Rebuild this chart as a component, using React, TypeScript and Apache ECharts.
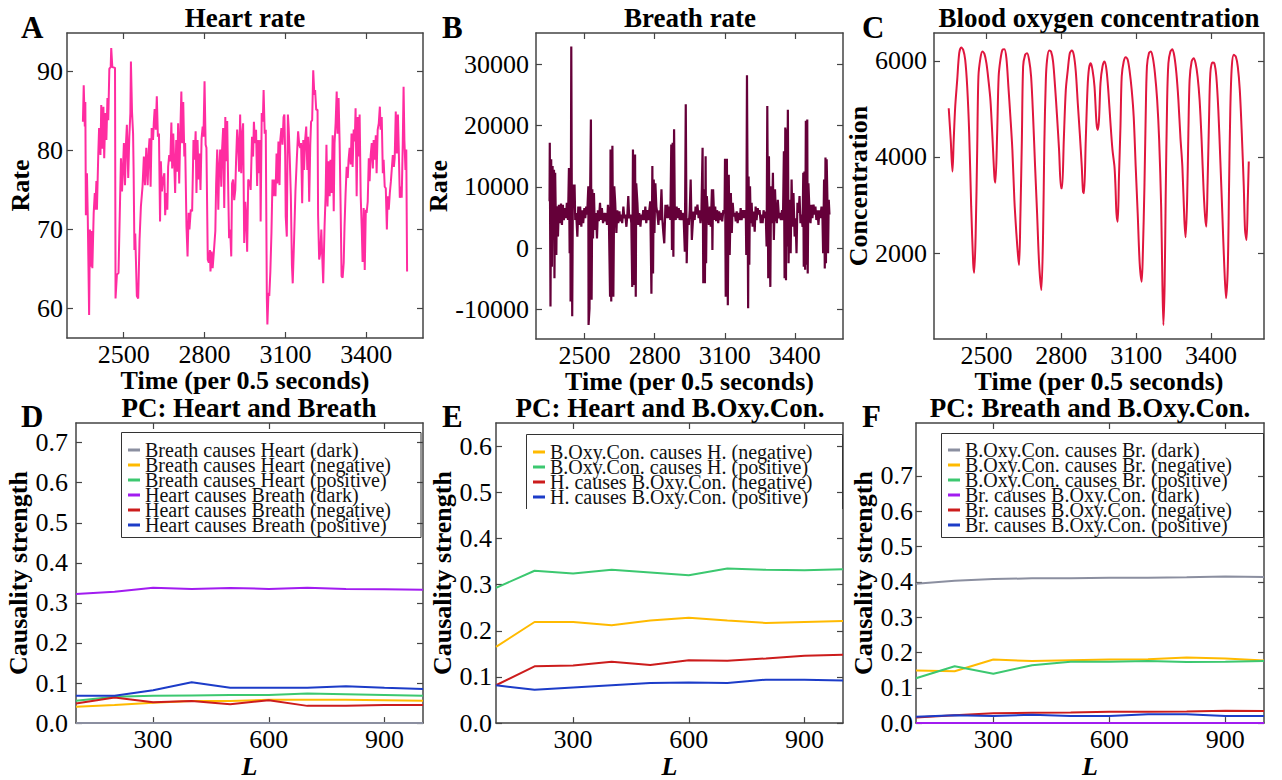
import React, { useEffect, useRef } from "react";
import * as echarts from "echarts";

const FONT = "Liberation Serif";

// ---------- Top row: time series (time in 0.5 s steps, value) ----------
const heartRate: [number, number][] = [
  [2349, 83.6], [2352, 88.2], [2356, 83.0], [2358, 86.1], [2360, 71.8], [2364, 77.1], [2367, 71.6], [2372, 59.2],
  [2375, 70.0], [2379, 65.3], [2381, 69.8], [2384, 65.1], [2389, 72.1], [2393, 74.6], [2395, 72.5], [2399, 76.1],
  [2401, 72.5], [2406, 79.6], [2409, 82.8], [2414, 79.4], [2417, 85.7], [2421, 80.2], [2425, 85.5], [2428, 79.0],
  [2432, 84.7], [2436, 81.3], [2440, 86.6], [2443, 83.8], [2447, 90.3], [2452, 90.5], [2454, 92.9], [2458, 90.5],
  [2468, 90.4], [2470, 61.3], [2475, 64.3], [2481, 64.5], [2486, 72.5], [2490, 79.0], [2494, 74.8], [2498, 78.2],
  [2501, 80.9], [2505, 75.6], [2509, 81.1], [2512, 83.2], [2517, 76.5], [2521, 81.7], [2525, 84.7], [2527, 91.2],
  [2531, 84.9], [2535, 82.1], [2537, 77.5], [2540, 67.4], [2543, 69.5], [2549, 61.6], [2554, 61.3], [2559, 68.7],
  [2564, 72.9], [2570, 75.4], [2575, 79.2], [2579, 75.6], [2584, 80.3], [2589, 75.6], [2593, 80.0], [2596, 81.5],
  [2600, 75.4], [2604, 82.8], [2609, 81.3], [2612, 83.6], [2615, 85.2], [2619, 82.6], [2623, 86.8], [2627, 81.7],
  [2631, 82.1], [2635, 71.0], [2638, 78.6], [2642, 74.8], [2646, 76.3], [2651, 77.1], [2654, 71.8], [2658, 74.6],
  [2662, 72.5], [2665, 77.9], [2669, 79.4], [2673, 78.6], [2677, 83.5], [2680, 77.7], [2684, 82.1], [2688, 77.9],
  [2691, 74.6], [2695, 81.3], [2699, 77.3], [2702, 83.4], [2706, 75.8], [2710, 82.1], [2714, 87.4], [2717, 80.9],
  [2721, 86.1], [2725, 79.2], [2728, 80.9], [2733, 70.4], [2737, 66.6], [2741, 72.1], [2744, 70.0], [2749, 72.5],
  [2754, 72.3], [2759, 81.3], [2763, 78.8], [2767, 82.4], [2770, 74.6], [2774, 81.3], [2778, 76.3], [2781, 79.6],
  [2785, 75.0], [2789, 81.5], [2793, 83.0], [2796, 81.7], [2800, 88.7], [2804, 80.7], [2807, 80.3], [2812, 66.2],
  [2816, 65.8], [2820, 67.4], [2822, 64.7], [2826, 67.2], [2830, 65.1], [2835, 67.4], [2840, 69.8], [2843, 75.8],
  [2847, 80.1], [2851, 72.5], [2854, 77.5], [2858, 80.1], [2862, 75.4], [2865, 80.1], [2869, 82.8], [2873, 72.7],
  [2877, 84.2], [2880, 78.6], [2884, 83.7], [2888, 74.6], [2891, 68.9], [2895, 70.0], [2899, 66.6], [2902, 75.8],
  [2906, 76.3], [2910, 73.7], [2914, 75.0], [2917, 78.8], [2921, 82.6], [2925, 80.3], [2928, 77.3], [2932, 84.5],
  [2936, 77.1], [2940, 82.1], [2943, 83.4], [2947, 68.3], [2951, 73.5], [2954, 71.8], [2958, 67.2], [2962, 76.3],
  [2965, 76.1], [2969, 75.6], [2971, 75.0], [2976, 81.7], [2980, 79.2], [2983, 83.6], [2987, 80.9], [2991, 82.6],
  [2995, 75.5], [2998, 81.3], [3002, 77.1], [3006, 81.3], [3008, 71.0], [3012, 84.7], [3016, 83.6], [3019, 87.6],
  [3023, 82.1], [3027, 82.6], [3031, 61.3], [3033, 58.0], [3037, 62.0], [3040, 61.6], [3044, 64.7], [3048, 69.5],
  [3052, 76.3], [3055, 74.2], [3059, 76.3], [3063, 74.2], [3067, 79.6], [3070, 75.8], [3074, 81.1], [3078, 75.6],
  [3081, 81.3], [3085, 82.8], [3089, 80.7], [3093, 84.2], [3096, 84.5], [3099, 79.4], [3101, 71.6], [3105, 69.1],
  [3109, 84.5], [3112, 82.8], [3116, 79.0], [3120, 74.2], [3124, 65.5], [3127, 63.2], [3132, 68.7], [3137, 74.8],
  [3142, 78.8], [3147, 82.4], [3151, 80.7], [3155, 80.3], [3158, 80.9], [3162, 73.3], [3166, 81.3], [3169, 77.5],
  [3173, 81.3], [3177, 83.0], [3181, 77.5], [3184, 81.7], [3188, 73.5], [3192, 80.7], [3195, 83.6], [3199, 83.8],
  [3203, 90.1], [3207, 87.0], [3210, 87.6], [3214, 85.1], [3219, 85.1], [3221, 71.8], [3225, 66.2], [3229, 67.0],
  [3233, 70.0], [3236, 67.0], [3240, 63.2], [3245, 70.4], [3249, 74.4], [3252, 80.7], [3256, 72.9], [3260, 78.6],
  [3264, 74.2], [3267, 78.8], [3271, 74.6], [3275, 81.9], [3279, 72.3], [3282, 80.9], [3286, 83.4], [3290, 87.4],
  [3293, 82.1], [3297, 86.6], [3301, 80.7], [3305, 71.8], [3308, 64.1], [3312, 63.9], [3316, 65.8], [3319, 70.4],
  [3323, 74.6], [3327, 77.9], [3331, 76.5], [3334, 78.8], [3338, 80.3], [3342, 78.2], [3345, 82.1], [3349, 77.9],
  [3353, 82.6], [3357, 81.1], [3360, 85.3], [3364, 74.2], [3368, 84.2], [3371, 79.2], [3375, 84.5], [3379, 74.2],
  [3383, 70.0], [3386, 65.9], [3390, 72.7], [3394, 64.9], [3398, 72.5], [3401, 72.1], [3405, 73.5], [3409, 79.0],
  [3412, 76.1], [3416, 79.4], [3420, 80.9], [3424, 77.7], [3427, 81.3], [3431, 78.8], [3435, 81.9], [3438, 77.1],
  [3442, 82.6], [3446, 83.4], [3450, 85.5], [3453, 82.6], [3457, 84.2], [3461, 77.1], [3464, 78.8], [3468, 75.4],
  [3472, 75.2], [3476, 70.0], [3479, 74.2], [3483, 72.5], [3487, 74.6], [3491, 76.1], [3494, 77.5], [3498, 79.4],
  [3502, 77.9], [3505, 79.0], [3509, 84.9], [3513, 79.6], [3517, 84.5], [3520, 80.3], [3524, 74.0], [3528, 75.4],
  [3531, 74.0], [3535, 80.9], [3538, 88.0], [3541, 81.3], [3545, 77.5], [3548, 80.1], [3551, 64.7],
];

const breathRate: [number, number][] = [
  [2350, 7650], [2351, 17200], [2354, -9500], [2357, 14500], [2360, -3000], [2363, 13400], [2366, 1360], [2369, 12800],
  [2371, -4900], [2374, 12300], [2379, -1100], [2381, 6840], [2386, 1900], [2390, 7100], [2394, 4100], [2399, 7300],
  [2403, 3800], [2407, 7100], [2411, 4600], [2416, 6550], [2420, 4900], [2424, 7400], [2429, 4600], [2433, 13100],
  [2436, -800], [2439, 13100], [2440, -8700], [2443, 32900], [2447, -11100], [2450, 10400], [2453, 6800], [2457, 10400],
  [2460, 4600], [2464, 5750], [2469, 1900], [2473, 6800], [2477, 3800], [2481, 6800], [2486, 3500], [2490, 6200],
  [2494, 4100], [2499, 6550], [2503, 4900], [2507, 6800], [2511, 5500], [2516, 10100], [2517, -12500], [2521, -9800],
  [2524, 10400], [2527, 21000], [2530, -8400], [2533, 9600], [2536, 1600], [2540, 9000], [2544, 3000], [2549, 5750],
  [2553, 1600], [2557, 6200], [2561, 4400], [2566, 7400], [2570, 4600], [2574, 6550], [2579, 4100], [2583, 5750],
  [2587, 4400], [2591, 5750], [2596, 3800], [2600, 7100], [2604, 4600], [2609, -7900], [2611, 16100], [2614, -8700],
  [2619, 16700], [2623, -7900], [2627, 10100], [2631, 7400], [2636, 2500], [2640, 6200], [2644, 4100], [2649, 6000],
  [2653, 4400], [2657, 5500], [2661, 4100], [2666, 6800], [2670, 4900], [2674, 5500], [2679, 3500], [2683, 5500],
  [2687, 8500], [2691, 4900], [2696, 5500], [2700, 4100], [2704, -6300], [2707, 16100], [2711, -6000], [2716, 15300],
  [2719, -7900], [2721, 10600], [2726, 7400], [2730, 3800], [2734, 5750], [2739, 3500], [2743, 5500], [2747, 4600],
  [2751, 6200], [2756, 4600], [2760, 6800], [2764, 4100], [2769, 6200], [2773, 4600], [2777, 6200], [2781, 7650],
  [2786, -7400], [2790, 13400], [2793, -4100], [2796, 11200], [2799, 2500], [2803, 10600], [2807, 6800], [2811, 5750],
  [2816, 3800], [2820, 6200], [2824, 4600], [2829, 9600], [2833, 4600], [2837, 2500], [2841, 800], [2846, 7100],
  [2850, 4900], [2854, 7100], [2859, 4900], [2863, 6800], [2867, 4600], [2871, 16900], [2874, -270], [2877, 17200],
  [2880, -1400], [2883, 19400], [2886, 6200], [2890, 4600], [2894, 6800], [2899, 4900], [2903, 6550], [2907, 4600],
  [2911, 6200], [2916, 4600], [2920, 5750], [2924, 4900], [2929, -550], [2933, 23500], [2937, -2450], [2941, 4900],
  [2946, 3800], [2950, 6200], [2954, 11200], [2959, 1360], [2966, 6000], [2971, 4600], [2975, 6800], [2979, 5500],
  [2983, 7100], [2988, 4900], [2992, 6200], [2996, 4100], [3000, 5750], [3005, 16400], [3008, -5700], [3010, 9600],
  [3015, -5700], [3018, 15000], [3020, -2450], [3023, 8500], [3027, 6200], [3032, 3800], [3036, 6800], [3040, 3500],
  [3045, 9600], [3047, -270], [3050, 9600], [3055, 4600], [3059, 6800], [3063, 4400], [3067, 6200], [3072, 4100],
  [3076, 6000], [3080, 4600], [3084, 5750], [3089, 4400], [3094, 6200], [3099, 5750], [3101, 14600], [3104, -7900],
  [3109, 14600], [3113, -9300], [3117, 12000], [3121, -1100], [3126, 9000], [3130, 2500], [3134, 7400], [3138, 5200],
  [3143, 5750], [3147, 4400], [3151, 6000], [3155, 4100], [3160, 5750], [3164, 4600], [3168, 6550], [3172, 4600],
  [3177, 6200], [3181, 4900], [3185, 6200], [3190, 5750], [3192, -1100], [3195, 28200], [3200, -9800], [3202, 11700],
  [3205, -2700], [3208, 10100], [3211, 4100], [3215, 7400], [3219, 3500], [3224, 6000], [3228, 2700], [3232, 6800],
  [3236, 4600], [3241, 6550], [3245, 5500], [3249, 6200], [3254, 4100], [3258, 5500], [3262, 4100], [3266, 6200],
  [3271, 4900], [3275, 6000], [3279, 270], [3282, 23200], [3286, -4900], [3289, 15000], [3292, -270], [3295, -6300],
  [3298, 10100], [3302, 4100], [3306, 12300], [3310, 1360], [3315, 9600], [3319, 5200], [3323, 4100], [3327, 7900],
  [3332, 4900], [3336, 5750], [3340, 4600], [3345, 6200], [3349, 4600], [3353, 15800], [3356, -4900], [3359, 19700],
  [3362, -5200], [3364, 19400], [3367, 270], [3370, 22600], [3373, -2450], [3377, 7900], [3382, -800], [3386, 11200],
  [3390, 3500], [3394, 9000], [3399, 1900], [3403, 4900], [3407, -800], [3411, 7400], [3416, 5750], [3420, 8500],
  [3424, 4100], [3428, 5500], [3433, 3500], [3436, 12300], [3438, -3000], [3441, 12500], [3444, -3500], [3447, 20800],
  [3450, -2700], [3453, 21000], [3455, -4100], [3458, 10600], [3463, 5500], [3467, 4100], [3471, 7100], [3475, 4900],
  [3480, 7100], [3484, 5500], [3488, 6800], [3492, 4600], [3497, 6200], [3501, 3800], [3505, 6200], [3509, 4900],
  [3514, 6800], [3518, 5200], [3521, -800], [3525, 11200], [3528, -3300], [3531, 14800], [3533, -2450], [3536, 14500],
  [3539, 8500], [3542, -800], [3545, 7900], [3548, 5500],
];

const bloodOxygen: [number, number][] = [
  [2349, 5014], [2357, 4354], [2364, 3695], [2369, 4354], [2375, 5049], [2383, 5604], [2391, 6160], [2399, 6278],
  [2407, 6229], [2415, 6021], [2423, 5465], [2431, 4493], [2439, 2965], [2447, 1785], [2451, 1590], [2457, 2410],
  [2463, 4146], [2468, 5674], [2476, 6056], [2484, 6194], [2492, 6146], [2500, 5951], [2508, 5604], [2516, 5188],
  [2524, 4424], [2532, 3590], [2536, 3465], [2543, 4493], [2549, 5674], [2556, 6021], [2564, 6229], [2572, 6243],
  [2580, 6056], [2588, 5465], [2596, 4840], [2604, 4146], [2612, 3104], [2620, 2410], [2627, 1924], [2631, 1750],
  [2636, 2757], [2642, 4354], [2647, 5882], [2655, 6125], [2663, 6160], [2671, 6021], [2679, 5674], [2687, 4840],
  [2695, 3799], [2703, 2826], [2711, 1785], [2720, 1229], [2727, 2410], [2732, 4285], [2738, 5604], [2743, 6021],
  [2751, 6215], [2759, 6194], [2767, 5986], [2775, 5465], [2783, 4840], [2791, 4146], [2799, 3347], [2803, 3347],
  [2810, 4354], [2818, 5396], [2826, 5813], [2834, 6160], [2842, 6215], [2850, 6125], [2858, 5778], [2866, 5118],
  [2874, 4493], [2882, 3799], [2887, 3278], [2891, 3243], [2898, 4354], [2905, 5431], [2911, 5847], [2918, 5951],
  [2925, 5813], [2933, 5465], [2941, 4701], [2946, 4563], [2951, 4771], [2957, 5535], [2965, 5882], [2973, 5986],
  [2981, 5813], [2989, 5326], [2997, 4701], [3005, 4146], [3013, 3799], [3017, 3382], [3021, 2826], [3026, 2653],
  [3031, 3590], [3037, 4632], [3042, 5674], [3050, 5986], [3058, 6076], [3066, 6021], [3074, 5778], [3082, 5396],
  [3090, 4840], [3098, 3799], [3106, 2826], [3114, 1785], [3122, 1403], [3127, 2063], [3133, 3382], [3138, 4840],
  [3143, 5882], [3151, 6160], [3159, 6194], [3167, 6056], [3175, 5743], [3184, 5188], [3192, 4354], [3200, 2965],
  [3205, 1368], [3209, 500], [3214, 1368], [3218, 3104], [3224, 5188], [3229, 5951], [3237, 6194], [3245, 6243],
  [3253, 6090], [3261, 5743], [3269, 5188], [3277, 4424], [3285, 3799], [3293, 2688], [3298, 2326], [3304, 3104],
  [3309, 4493], [3314, 5604], [3322, 5986], [3330, 6056], [3338, 5951], [3346, 5674], [3354, 5188], [3362, 4354],
  [3370, 3313], [3376, 2757], [3381, 2549], [3386, 3451], [3392, 4840], [3397, 5743], [3405, 5965], [3413, 5951],
  [3421, 5674], [3429, 4979], [3437, 3938], [3445, 2826], [3453, 1715], [3460, 1056], [3467, 1715], [3472, 3382],
  [3477, 4979], [3483, 5882], [3491, 6125], [3499, 6090], [3507, 5882], [3515, 5396], [3523, 4493], [3531, 3382],
  [3536, 2479], [3542, 2271], [3547, 3104], [3551, 3903],
];

// ---------- Bottom row: causality strength vs L ----------
const lValues = [100, 200, 300, 400, 500, 600, 700, 800, 900, 1000];

const dNames = [
  "Breath causes Heart (dark)",
  "Breath causes Heart (negative)",
  "Breath causes Heart (positive)",
  "Heart causes Breath (dark)",
  "Heart causes Breath (negative)",
  "Heart causes Breath (positive)",
];
const dBrHDark = [0, 0, 0, 0, 0, 0, 0, 0, 0, 0];
const dBrHNeg = [0.041, 0.045, 0.051, 0.055, 0.055, 0.058, 0.058, 0.058, 0.057, 0.056];
const dBrHPos = [0.056, 0.066, 0.068, 0.069, 0.07, 0.07, 0.074, 0.072, 0.07, 0.068];
const dHBrDark = [0.322, 0.328, 0.338, 0.335, 0.337, 0.335, 0.338, 0.335, 0.334, 0.333];
const dHBrNeg = [0.049, 0.064, 0.052, 0.055, 0.047, 0.057, 0.043, 0.043, 0.045, 0.045];
const dHBrPos = [0.068, 0.068, 0.082, 0.102, 0.088, 0.088, 0.088, 0.092, 0.088, 0.085];

const eNames = [
  "B.Oxy.Con. causes H. (negative)",
  "B.Oxy.Con. causes H. (positive)",
  "H. causes B.Oxy.Con. (negative)",
  "H. causes B.Oxy.Con. (positive)",
];
const eOxHNeg = [0.165, 0.219, 0.219, 0.212, 0.222, 0.228, 0.222, 0.217, 0.219, 0.221];
const eOxHPos = [0.293, 0.33, 0.324, 0.332, 0.326, 0.32, 0.335, 0.332, 0.331, 0.333];
const eHOxNeg = [0.082, 0.123, 0.125, 0.133, 0.126, 0.136, 0.135, 0.14, 0.146, 0.148];
const eHOxPos = [0.082, 0.072, 0.077, 0.082, 0.087, 0.088, 0.087, 0.094, 0.094, 0.092];

const fNames = [
  "B.Oxy.Con. causes Br. (dark)",
  "B.Oxy.Con. causes Br. (negative)",
  "B.Oxy.Con. causes Br. (positive)",
  "Br. causes B.Oxy.Con. (dark)",
  "Br. causes B.Oxy.Con. (negative)",
  "Br. causes B.Oxy.Con. (positive)",
];
const fOxBrDark = [0.395, 0.403, 0.408, 0.41, 0.41, 0.412, 0.412, 0.413, 0.415, 0.414];
const fOxBrNeg = [0.149, 0.147, 0.18, 0.176, 0.178, 0.18, 0.181, 0.186, 0.183, 0.177];
const fOxBrPos = [0.127, 0.161, 0.14, 0.164, 0.174, 0.174, 0.176, 0.173, 0.174, 0.176];
const fBrOxDark = [0, 0, 0, 0, 0, 0, 0, 0, 0, 0];
const fBrOxNeg = [0.016, 0.022, 0.028, 0.029, 0.03, 0.032, 0.032, 0.033, 0.035, 0.034];
const fBrOxPos = [0.018, 0.022, 0.02, 0.024, 0.02, 0.02, 0.025, 0.025, 0.02, 0.02];

const timeTicks = [2500, 2800, 3100, 3400];
const lTicks = [300, 600, 900];
const hrTicks = [60, 70, 80, 90];
const brTicks = [-10000, 0, 10000, 20000, 30000];
const oxTicks = [2000, 4000, 6000];
const pcTicks7 = [0, 0.1, 0.2, 0.3, 0.4, 0.5, 0.6, 0.7];
const pcTicks6 = [0, 0.1, 0.2, 0.3, 0.4, 0.5, 0.6];

const C_GRAY = "#8b8fa0";
const C_YELLOW = "#ffba00";
const C_GREEN = "#3cc870";
const C_PURPLE = "#a21cf0";
const C_RED = "#cc1c1c";
const C_BLUE = "#1c3cc8";

const FRAME = "#444";

type PanelAxis = {
  grid: number;
  xMin: number; xMax: number; yMin: number; yMax: number;
  xTicks: number[]; yTicks: number[];
  xName: string; yName: string;
  xItalic?: boolean;
  xGap: number; yGap: number; yLabelMargin: number;
  yFmt?: (v: number) => string;
};

function buildAxes(p: PanelAxis) {
  const lineStyle = { color: FRAME, width: 1.5 };
  const tickStyle = { color: FRAME, width: 1.2 };
  const labelStyle = { fontFamily: FONT, fontSize: 26, color: "#000" };
  const nameStyle = { fontFamily: FONT, fontSize: 26, fontWeight: "bold" as const, color: "#000" };
  const xBottom = {
    gridIndex: p.grid, type: "value", min: p.xMin, max: p.xMax, position: "bottom",
    axisLine: { show: true, onZero: false, lineStyle },
    axisTick: { show: true, inside: true, length: 6, customValues: p.xTicks, lineStyle: tickStyle },
    axisLabel: { show: true, customValues: p.xTicks, margin: 3, ...labelStyle, formatter: (v: number) => String(v) },
    splitLine: { show: false },
    name: p.xName, nameLocation: "middle", nameGap: p.xGap,
    nameTextStyle: { ...nameStyle, fontStyle: p.xItalic ? "italic" : "normal" },
  };
  const xTop = {
    gridIndex: p.grid, type: "value", min: p.xMin, max: p.xMax, position: "top",
    axisLine: { show: true, onZero: false, lineStyle },
    axisTick: { show: true, inside: true, length: 6, customValues: p.xTicks, lineStyle: tickStyle },
    axisLabel: { show: false },
    splitLine: { show: false },
  };
  const yLeft = {
    gridIndex: p.grid, type: "value", min: p.yMin, max: p.yMax, position: "left",
    axisLine: { show: true, onZero: false, lineStyle },
    axisTick: { show: true, inside: true, length: 6, customValues: p.yTicks, lineStyle: tickStyle },
    axisLabel: {
      show: true, customValues: p.yTicks, margin: p.yLabelMargin, ...labelStyle,
      formatter: p.yFmt ? p.yFmt : (v: number) => String(v),
    },
    splitLine: { show: false },
    name: p.yName, nameLocation: "middle", nameGap: p.yGap, nameRotate: 90,
    nameTextStyle: nameStyle,
  };
  const yRight = {
    gridIndex: p.grid, type: "value", min: p.yMin, max: p.yMax, position: "right",
    axisLine: { show: true, onZero: false, lineStyle },
    axisTick: { show: true, inside: true, length: 6, customValues: p.yTicks, lineStyle: tickStyle },
    axisLabel: { show: false },
    splitLine: { show: false },
  };
  return { x: [xBottom, xTop], y: [yLeft, yRight] };
}

function lineSeries(name: string, axisIdx: number, data: number[][], color: string, width: number, smooth: any = false) {
  return {
    name, type: "line", xAxisIndex: axisIdx, yAxisIndex: axisIdx, data,
    showSymbol: false, symbol: "none", smooth, color,
    lineStyle: { color, width }, itemStyle: { color }, animation: false,
  };
}

const zipL = (vals: number[]) => lValues.map((l, i) => [l, vals[i]]);

export default function App() {
  const ref = useRef<HTMLDivElement>(null);
  useEffect(() => {
    if (!ref.current) return;
    const chart = echarts.init(ref.current, undefined, { renderer: "svg" });
    const fmt1 = (v: number) => v.toFixed(1);
    const panels: PanelAxis[] = [
      { grid: 0, xMin: 2290, xMax: 3610, yMin: 56.3, yMax: 94.8, xTicks: timeTicks, yTicks: hrTicks, xName: "Time (per 0.5 seconds)", yName: "Rate", xGap: 21, yGap: 31, yLabelMargin: 4 },
      { grid: 1, xMin: 2292, xMax: 3606, yMin: -14800, yMax: 35100, xTicks: timeTicks, yTicks: brTicks, xName: "Time (per 0.5 seconds)", yName: "Rate", xGap: 21, yGap: 77, yLabelMargin: 7 },
      { grid: 2, xMin: 2290, xMax: 3612, yMin: 210, yMax: 6580, xTicks: timeTicks, yTicks: oxTicks, xName: "Time (per 0.5 seconds)", yName: "Concentration", xGap: 21, yGap: 57, yLabelMargin: 7 },
      { grid: 3, xMin: 100, xMax: 1000, yMin: 0, yMax: 0.749, xTicks: lTicks, yTicks: pcTicks7, xName: "L", xItalic: true, yName: "Causality strength", xGap: 24, yGap: 40, yLabelMargin: 8, yFmt: fmt1 },
      { grid: 4, xMin: 100, xMax: 1000, yMin: 0, yMax: 0.65, xTicks: lTicks, yTicks: pcTicks6, xName: "L", xItalic: true, yName: "Causality strength", xGap: 24, yGap: 40, yLabelMargin: 4, yFmt: fmt1 },
      { grid: 5, xMin: 100, xMax: 1000, yMin: 0, yMax: 0.85, xTicks: lTicks, yTicks: pcTicks7, xName: "L", xItalic: true, yName: "Causality strength", xGap: 24, yGap: 40, yLabelMargin: 3, yFmt: fmt1 },
    ];
    const xAxes: any[] = [];
    const yAxes: any[] = [];
    panels.forEach((p) => {
      const a = buildAxes(p);
      xAxes.push(...a.x);
      yAxes.push(...a.y);
    });
    const ax = (i: number) => 2 * i;

    const titleStyle = { fontFamily: FONT, fontWeight: "bold" as const, fontSize: 27, color: "#000" };
    const letterStyle = { fontFamily: FONT, fontWeight: "bold" as const, fontSize: 31, color: "#000" };
    const titles = [
      { text: "Heart rate", left: 245, top: 4 },
      { text: "Breath rate", left: 690, top: 4 },
      { text: "Blood oxygen concentration", left: 1099, top: 4 },
      { text: "PC: Heart and Breath", left: 249, top: 394 },
      { text: "PC: Heart and B.Oxy.Con.", left: 670, top: 394 },
      { text: "PC: Breath and B.Oxy.Con.", left: 1090, top: 394 },
    ].map((t) => ({ ...t, textAlign: "center", padding: 0, textStyle: titleStyle }));
    const letters = [
      { text: "A", left: 21, top: 12 },
      { text: "B", left: 442, top: 12 },
      { text: "C", left: 862, top: 12 },
      { text: "D", left: 21, top: 401 },
      { text: "E", left: 442, top: 401 },
      { text: "F", left: 862, top: 401 },
    ].map((t) => ({ ...t, padding: 0, textStyle: letterStyle }));

    const legendBase = {
      orient: "vertical", icon: "rect", itemWidth: 12, itemHeight: 3, itemGap: -5, padding: 0,
      textStyle: { fontFamily: FONT, fontSize: 20, lineHeight: 15, color: "#111" },
      selectedMode: false,
    };

    const option: any = {
      animation: false,
      backgroundColor: "#fff",
      textStyle: { fontFamily: FONT },
      title: [...titles, ...letters],
      grid: [
        { left: 67, top: 33, width: 356, height: 305 },
        { left: 536, top: 33, width: 307, height: 306 },
        { left: 934, top: 33, width: 330, height: 306 },
        { left: 76, top: 423, width: 347, height: 305 },
        { left: 496, top: 423, width: 347, height: 305 },
        { left: 916, top: 423, width: 348, height: 305 },
      ],
      xAxis: xAxes,
      yAxis: yAxes,
      legend: [
        { ...legendBase, data: dNames, left: 128, top: 440 },
        { ...legendBase, data: eNames, left: 533, top: 442 },
        { ...legendBase, data: fNames, left: 948, top: 440 },
      ],
      graphic: [
        { type: "rect", shape: { x: 121.5, y: 432.5, width: 299.5, height: 105 }, style: { fill: "none", stroke: "#333", lineWidth: 1 }, z: 100 },
        { type: "polyline", shape: { points: [[526.5, 509], [526.5, 434.5], [842.5, 434.5], [842.5, 509]] }, style: { fill: "none", stroke: "#333", lineWidth: 1 }, z: 100 },
        { type: "rect", shape: { x: 941.5, y: 433.5, width: 322, height: 104 }, style: { fill: "none", stroke: "#333", lineWidth: 1 }, z: 100 },
      ],
      series: [
        lineSeries("Heart rate", ax(0), heartRate, "#ff2ca0", 2),
        lineSeries("Breath rate", ax(1), breathRate, "#650039", 2.2),
        lineSeries("Blood oxygen concentration", ax(2), bloodOxygen, "#e0163e", 2, 0.3),

        lineSeries(dNames[0], ax(3), zipL(dBrHDark), C_GRAY, 2),
        lineSeries(dNames[1], ax(3), zipL(dBrHNeg), C_YELLOW, 2),
        lineSeries(dNames[2], ax(3), zipL(dBrHPos), C_GREEN, 2),
        lineSeries(dNames[3], ax(3), zipL(dHBrDark), C_PURPLE, 2),
        lineSeries(dNames[4], ax(3), zipL(dHBrNeg), C_RED, 2),
        lineSeries(dNames[5], ax(3), zipL(dHBrPos), C_BLUE, 2),

        lineSeries(eNames[0], ax(4), zipL(eOxHNeg), C_YELLOW, 2),
        lineSeries(eNames[1], ax(4), zipL(eOxHPos), C_GREEN, 2),
        lineSeries(eNames[2], ax(4), zipL(eHOxNeg), C_RED, 2),
        lineSeries(eNames[3], ax(4), zipL(eHOxPos), C_BLUE, 2),

        lineSeries(fNames[0], ax(5), zipL(fOxBrDark), C_GRAY, 2),
        lineSeries(fNames[1], ax(5), zipL(fOxBrNeg), C_YELLOW, 2),
        lineSeries(fNames[2], ax(5), zipL(fOxBrPos), C_GREEN, 2),
        lineSeries(fNames[3], ax(5), zipL(fBrOxDark), C_PURPLE, 2),
        lineSeries(fNames[4], ax(5), zipL(fBrOxNeg), C_RED, 2),
        lineSeries(fNames[5], ax(5), zipL(fBrOxPos), C_BLUE, 2),
      ],
    };
    chart.setOption(option);
    return () => chart.dispose();
  }, []);
  return (
    <div
      ref={ref}
      style={{ position: "fixed", left: 0, top: 0, width: 1282, height: 780, background: "#fff" }}
    />
  );
}
